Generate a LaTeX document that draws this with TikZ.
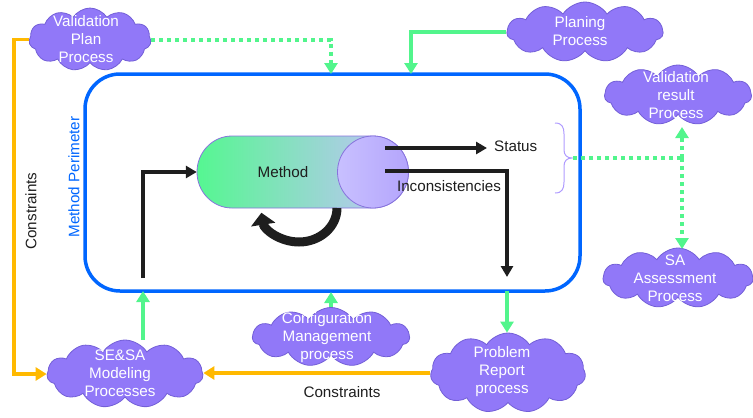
\documentclass[tikz,border=0pt]{standalone}
\usepackage{fontspec}
\setmainfont{Liberation Sans}
\usetikzlibrary{shapes.symbols,arrows.meta,calc}

\definecolor{cloudfill}{RGB}{145,120,248}
\definecolor{cloudline}{RGB}{115,95,215}
\definecolor{flowgreen}{RGB}{82,245,140}
\definecolor{flowblue}{RGB}{0,102,255}
\definecolor{constr}{RGB}{255,185,0}
\definecolor{methgreen}{RGB}{85,247,145}
\definecolor{methmid}{RGB}{165,210,225}
\definecolor{methlav}{RGB}{200,192,255}
\definecolor{endlav}{RGB}{180,165,252}
\definecolor{methedge}{RGB}{135,115,220}
\definecolor{bracecol}{RGB}{175,155,255}
\definecolor{ink}{RGB}{30,30,30}

\begin{document}
\begin{tikzpicture}[x=1pt,y=-1pt,
  every node/.style={font=\fontsize{15.2pt}{18pt}\selectfont},
  proc/.style={cloud, cloud puffs=11, cloud puff arc=115, cloud ignores aspect,
    draw=cloudline, fill=cloudfill, line width=0.8pt, inner sep=0pt},
  proctext/.style={text=white, align=center, inner sep=0pt},
  gtip/.style={-{Triangle[width=13pt,length=11pt]}},
  gsolid/.style={draw=flowgreen, line width=3.5pt, gtip},
  gdots/.style={draw=flowgreen, line width=4pt, dash pattern=on 4pt off 4pt, gtip},
  constraint/.style={draw=constr, line width=3.5pt},
  ctip/.style={-{Triangle[width=13pt,length=11pt]}},
  flow/.style={draw=ink, line width=3.5pt, -{Triangle[width=12pt,length=11pt]}},
]
\useasboundingbox (0,0) rectangle (753,418);

% method perimeter
\node[draw=flowblue, line width=3.5pt, rounded corners=35pt,
      minimum width=495pt, minimum height=217pt, inner sep=0pt] (perim) at (332.5,182.5) {};
\node[text=flowblue, rotate=90] (perimlbl) at (74,177) {Method Perimeter};

% method cylinder
\shade[left color=methgreen, middle color=methmid, right color=methlav,
       draw=methedge, line width=0.8pt]
  (232,136) arc[start angle=270, end angle=90, x radius=35, y radius=36]
  -- (373,208) arc[start angle=90, end angle=-90, x radius=35.5, y radius=36] -- cycle;
\shade[left color=methlav, right color=endlav, draw=methedge, line width=0.8pt]
  (373,172) ellipse[x radius=35.5, y radius=36];
\node[minimum width=212pt, minimum height=72pt, inner sep=0pt] (method) at (303,172) {};
\node[text=ink] (methodlbl) at (283,172) {Method};

% self loop under the method
\draw[ink, line width=9pt, -{Triangle[width=24pt,length=12pt]}]
  (337,208) arc[start angle=0, end angle=172, x radius=38, y radius=34];

% processes
\node[proc, minimum width=122pt, minimum height=63pt] (vp) at (90,39.5) {};
\node[proctext] (vptxt) at (86,39) {Validation\\Plan\\Process};
\node[proc, minimum width=156pt, minimum height=60pt] (plan) at (585,32) {};
\node[proctext] (plantxt) at (580,31) {Planing\\Process};
\node[proc, minimum width=147pt, minimum height=60pt] (vr) at (678,95) {};
\node[proctext] (vrtxt) at (676,95) {Validation\\result\\Process};
\node[proc, minimum width=150pt, minimum height=60pt] (sa) at (678,278) {};
\node[proctext] (satxt) at (675,278) {SA\\Assessment\\Process};
\node[proc, minimum width=156pt, minimum height=68pt] (se) at (125,374) {};
\node[proctext] (setxt) at (120,373) {SE\&SA\\Modeling\\Processes};
\node[proc, minimum width=157pt, minimum height=59pt] (cm) at (331,337) {};
\node[proctext] (cmtxt) at (327,338) {Configuration\\Management\\process};
\node[proc, minimum width=155pt, minimum height=80pt] (pr) at (508,373) {};
\node[proctext] (prtxt) at (502,372) {Problem\\Report\\process};

% method inputs and outputs
\coordinate (feed) at (143,278);
\draw[flow] (feed) |- (method.west);
\coordinate (statusOut) at (385,148);
\node[text=ink, anchor=west, inner sep=0pt] (status) at (494,146) {Status};
\draw[flow, shorten >=7pt] (statusOut) -- (statusOut -| status.west);
\coordinate (incOut) at (385,171);
\coordinate (incEnd) at (507,277);
\draw[flow] (incOut) -| (incEnd);
\node[text=ink] (inclbl) at (449,186) {Inconsistencies};

% links with the perimeter
\coordinate (pTopA) at (331,74);
\coordinate (pTopB) at (411,74);
\draw[gdots] (vp.east) -| (pTopA);
\draw[gsolid] (plan.west) -| (pTopB);
\coordinate (pBotA) at (143,291);
\draw[gsolid] (pBotA |- se.north) -- (pBotA);
\coordinate (pBotB) at (331,292);
\draw[gsolid] (cm.north) -- (cm.north |- pBotB);
\coordinate (pBotC) at (507,291);
\draw[gsolid] (pBotC) -- (pBotC |- pr.north);

% outputs grouped by the brace
\draw[bracecol, line width=1pt]
  (555,123) .. controls (562,123) and (564,127) .. (564,134) -- (564,150)
  .. controls (564,155) and (567,158) .. (572,158)
  .. controls (567,158) and (564,161) .. (564,166) -- (564,182)
  .. controls (564,189) and (562,193) .. (555,193);
\coordinate (braceTip) at (573,158);
\coordinate (split) at (682,158);
\coordinate (vrIn) at (682,127);
\coordinate (saIn) at (682,249);
\draw[gdots, -] (braceTip) -- (split);
\draw[gdots] (split) -- (vrIn);
\draw[gdots] (split) -- (saIn);

% constraints
\draw[constraint, ctip] (vp.west) -- ++(-15,0) |- (se.west);
\node[text=ink, rotate=90] (cleft) at (31,211) {Constraints};
\draw[constraint, ctip] (pr.west) -- (pr.west -| se.east);
\node[text=ink] (cbot) at (342,392) {Constraints};
\end{tikzpicture}
\end{document}
